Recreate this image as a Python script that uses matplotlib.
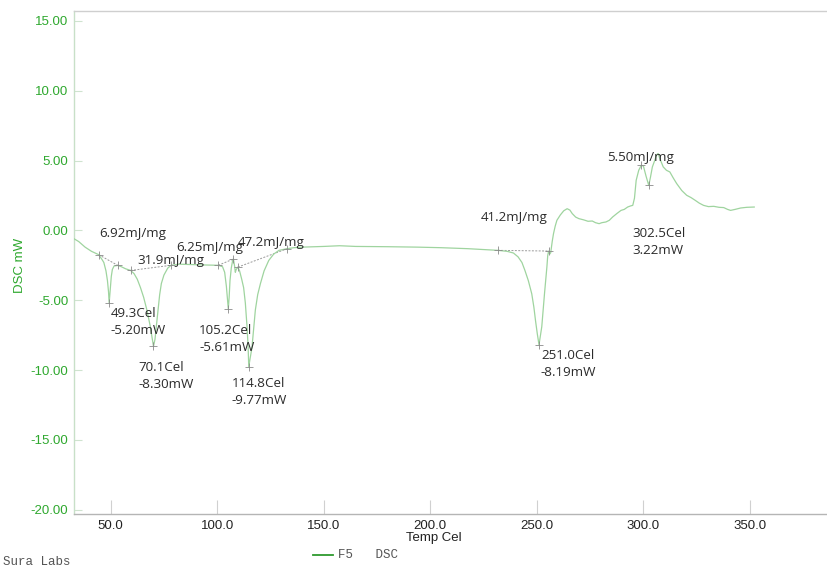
import matplotlib
matplotlib.use("Agg")
import matplotlib.pyplot as plt

# DSC trace of sample F5 (temperature in Cel, heat flow in mW)
temp = [32.8, 35, 38, 41, 44.4, 46, 46.8, 47.8, 48.5, 49.0, 49.3, 49.8, 50.3, 50.8, 51.6,
        53.4, 55, 57, 59.4, 61, 62.5, 64, 65.5, 67.0, 68.5, 69.6, 70.1, 70.8, 71.5, 72.3,
        73.0, 73.8, 75.0, 76.8, 78.4, 82, 88, 95, 100.5, 102.5, 103.5, 104.3, 104.8, 105.2,
        105.6, 106.0, 106.6, 107.3, 107.6, 108.2, 108.5, 108.9, 109.7, 110.5, 111.5, 112.4,
        113.2, 114.0, 114.5, 114.8, 115.4, 116.3, 117.2, 117.9, 119, 120.3, 122, 124.2,
        126.5, 129, 132.9, 136, 140, 150, 157.4, 165, 180, 193.8, 205, 217.5, 225, 231.7,
        236, 239, 241.2, 243, 244.4, 246, 247.6, 248.6, 249.4, 250.2, 251.0, 251.6, 252.3,
        253.0, 253.6, 254.2, 254.7, 255.1, 255.5, 256.0, 256.5, 257.2, 257.8, 258.6, 259.4,
        261, 262.6, 264.2, 265.5, 266.6, 268.2, 269.7, 272, 274, 276, 277.5, 279.2, 280.5,
        282.4, 284, 285.5, 287.5, 289.5, 291, 292.6, 294, 295, 295.8, 296.6, 297.8, 299.0,
        300.0, 301.2, 302.5, 303.3, 304.2, 305.3, 306.2, 306.9, 307.8, 309.3, 310.8, 312.4,
        314, 315.6, 318, 320.3, 322.3, 324.3, 326.2, 328.2, 330.5, 333, 335.5, 337.7, 339.5,
        340.9, 343, 345.6, 348.5, 352]
dsc = [-0.6, -0.8, -1.2, -1.5, -1.74, -2.1, -2.3, -2.9, -3.6, -4.4, -5.20, -4.2, -3.3, -2.8,
       -2.55, -2.51, -2.6, -2.75, -2.87, -3.1, -3.5, -4.1, -4.8, -5.7, -6.8, -7.8, -8.30,
       -7.8, -6.8, -5.6, -4.6, -3.8, -3.2, -2.7, -2.5, -2.42, -2.45, -2.48, -2.5, -2.6,
       -3.0, -4.0, -4.9, -5.61, -4.8, -3.6, -2.7, -2.1, -2.05, -2.6, -3.0, -2.8, -2.63,
       -2.9, -3.5, -4.1, -5.2, -6.9, -8.3, -9.77, -9.2, -8.4, -6.9, -5.7, -4.6, -3.8, -2.9,
       -2.15, -1.7, -1.43, -1.31, -1.24, -1.2, -1.15, -1.1, -1.15, -1.17, -1.2, -1.24,
       -1.31, -1.37, -1.43, -1.5, -1.62, -1.9, -2.3, -2.87, -3.6, -4.54, -5.5, -6.5, -7.4,
       -8.19, -7.6, -6.9, -5.6, -4.5, -3.5, -2.63, -1.8, -1.48, -1.7, -1.6, -0.8, -0.24,
       0.3, 0.72, 1.1, 1.4, 1.55, 1.45, 1.2, 0.95, 0.84, 0.75, 0.65, 0.67, 0.55, 0.48,
       0.55, 0.6, 0.72, 0.95, 1.2, 1.43, 1.5, 1.67, 1.75, 1.79, 2.3, 3.58, 4.3, 4.66, 4.6,
       3.9, 3.22, 3.8, 4.54, 5.0, 5.4, 5.5, 5.1, 4.54, 4.3, 4.18, 3.75, 3.35, 2.85, 2.51,
       2.35, 2.15, 1.95, 1.79, 1.7, 1.72, 1.65, 1.63, 1.5, 1.43, 1.5, 1.6, 1.65, 1.67]

# Peak tops (Cel, mW)
peak_temp = [49.3, 70.1, 105.2, 114.8, 251.0, 302.5]
peak_dsc = [-5.20, -8.30, -5.61, -9.77, -8.19, 3.22]

# Integration limits (start/end points of each baseline)
base_t0 = [44.4, 59.4, 100.5, 109.7, 231.7, 299.0]
base_y0 = [-1.74, -2.87, -2.5, -2.63, -1.43, 4.66]
base_t1 = [53.4, 78.4, 107.6, 132.9, 255.5, None]
base_y1 = [-2.51, -2.5, -2.05, -1.31, -1.48, None]

# Peak enthalpies (mJ/mg)
enthalpy = [6.92, 31.9, 6.25, 47.2, 41.2, 5.50]

x_ticks = [50, 100, 150, 200, 250, 300, 350]
y_ticks = [-20, -15, -10, -5, 0, 5, 10, 15]

W, H = 828, 567
fig = plt.figure(figsize=(W / 100, H / 100), dpi=100)
ax = fig.add_axes([74 / W, (H - 514) / H, (W - 74) / W + 0.01, (514 - 11) / H])

curve_col = "#9fd49f"
ax.plot(temp, dsc, color=curve_col, lw=0.9, zorder=3)

# baselines
for t0, y0, t1, y1 in zip(base_t0, base_y0, base_t1, base_y1):
    if t1 is not None:
        ax.plot([t0, t1], [y0, y1], color="#9a9a9a", lw=0.7, ls=(0, (2, 1.5)), zorder=2)

# markers for limits and peaks
mk_t = [t for t in base_t0] + [t for t in base_t1 if t is not None] + peak_temp
mk_y = [y for y in base_y0] + [y for y in base_y1 if y is not None] + peak_dsc
ax.plot(mk_t, mk_y, ls="none", marker="+", ms=6, mew=0.6, color="#8a8a8a", zorder=4)

ann_font = dict(family=["Open Sans", "DejaVu Sans"], fontsize=9.6, color="#2b2b2b")

# enthalpy labels
enth_pos = [(44.7, -0.22), (62.6, -2.15), (80.7, -1.2), (109.7, -0.84), (223.8, 0.95), (283.2, 5.21)]
for e, (tx, ty) in zip(enthalpy, enth_pos):
    ax.text(tx, ty, f"{e:#.3g}mJ/mg", ha="left", va="center", zorder=5, **ann_font)

# peak labels
peak_pos = [(49.9, -5.97), (63.0, -9.8), (91.5, -7.17), (106.8, -10.95), (251.9, -8.96), (295.0, -0.24)]
for t, v, (tx, ty) in zip(peak_temp, peak_dsc, peak_pos):
    ax.text(tx, ty, f"{t:.1f}Cel", ha="left", va="center", zorder=5, **ann_font)
    ax.text(tx, ty - 1.2, f"{v:.2f}mW", ha="left", va="center", zorder=5, **ann_font)

ax.set_xlim(32.8, 390.5)
ax.set_ylim(-20.3, 15.7)
ax.set_xticks(x_ticks)
ax.set_yticks(y_ticks)
ax.set_xticklabels([f"{v:.1f}" for v in x_ticks])
ax.set_yticklabels([f"{v:.2f}" for v in y_ticks])

tick_font = ["Liberation Sans Narrow", "Liberation Sans", "DejaVu Sans"]
for lab in ax.get_yticklabels():
    lab.set_family(tick_font)
    lab.set_fontsize(9.5)
    lab.set_color("#2ea82e")
for lab in ax.get_xticklabels():
    lab.set_family(tick_font)
    lab.set_fontsize(9.5)
    lab.set_color("#222222")

ax.tick_params(axis="y", direction="in", length=6, width=0.8, color="#cfe3cf", pad=4)
ax.tick_params(axis="x", direction="in", length=10, width=0.8, color="#d0d0d0", pad=4)

ax.spines["right"].set_visible(False)
ax.spines["left"].set_color("#c8e0c8")
ax.spines["top"].set_color("#cfcfcf")
ax.spines["bottom"].set_color("#b5b5b5")
for s in ax.spines.values():
    s.set_linewidth(1.0)

fig.text(434 / W, 1 - 538 / H, "Temp Cel", ha="center", va="center",
         family=tick_font, fontsize=9.5, color="#222222")
fig.text(20 / W, 1 - 265 / H, "DSC mW", ha="center", va="center", rotation=90,
         family=["Liberation Sans", "DejaVu Sans"], fontsize=9.5, color="#2ea82e")

# legend line and caption
fig.add_artist(plt.Line2D([313 / W, 333 / W], [1 - 555 / H, 1 - 555 / H],
                          color="#2e9a2e", lw=1.3, transform=fig.transFigure))
fig.text(338 / W, 1 - 555 / H, "F5   DSC", ha="left", va="center",
         family=["Liberation Mono", "DejaVu Sans Mono"], fontsize=9, color="#555555")
fig.text(3 / W, 1 - 562 / H, "Sura Labs", ha="left", va="center",
         family=["Liberation Mono", "DejaVu Sans Mono"], fontsize=9, color="#555555")

fig.savefig("out.png", dpi=100)
